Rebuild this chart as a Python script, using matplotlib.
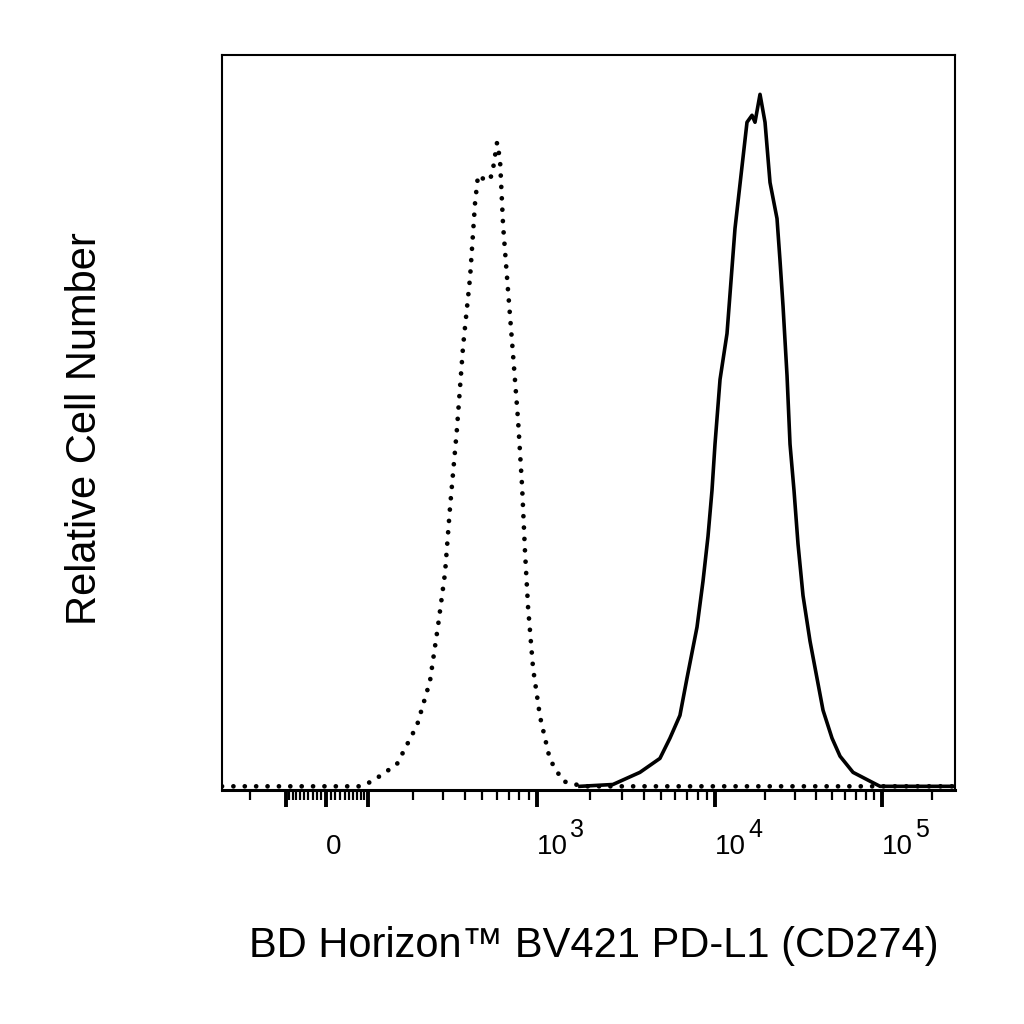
"""
PD-L1 (CD274) BV421 staining histogram, biexponential x axis
"""

import numpy as np
import matplotlib.pyplot as plt
from matplotlib.ticker import FixedLocator, FixedFormatter

plt.rcParams["font.family"] = ["Liberation Sans", "DejaVu Sans"]

# =============================================================================
# Data (fluorescence intensity, relative cell count)

# isotype control (dotted)
iso_x = [-320, 78, 108, 159, 212, 253, 282, 309, 330, 361, 391, 428, 456, 474,
         532, 567, 604, 627, 652, 694, 740, 788, 829, 860, 894, 952, 1040,
         1183, 1400, 1813, 275000]
iso_y = [0, 0, 1.4, 6.0, 16.6, 28.6, 43.8, 58.0, 75.9, 97.1, 119.7, 138.5,
         158.6, 166.3, 164.6, 166.3, 175.2, 170.6, 152.6, 135.0, 117.3, 99.6,
         81.6, 63.9, 48.7, 32.1, 19.0, 7.3, 1.4, 0, 0]

# PD-L1 stained (solid)
pdl1_x = [1744, 2673, 3790, 4909, 5587, 6357, 6962, 7924, 8563, 9135, 9618,
          10000, 10718, 11800, 13175, 15545, 16656, 17357, 18600, 19930,
          21350, 23510, 24500, 25550, 26990, 28130, 29720, 31410, 33650,
          37060, 40810, 44340, 50190, 56050, 67060, 84770, 97280, 275000]
pdl1_y = [0, 0.5, 3.8, 7.6, 13.1, 19.3, 29.4, 43.3, 55.8, 68.0, 80.5, 93.1,
          110.7, 123.2, 151.8, 180.7, 182.6, 180.7, 188.3, 180.7, 164.3,
          154.5, 143.1, 130.6, 111.8, 93.1, 80.5, 65.9, 51.9, 39.5, 29.4,
          20.7, 13.1, 8.2, 3.8, 1.4, 0, 0]

major_ticks = [-100, 0, 100, 1e3, 1e4, 1e5]
major_labels = ["", "0", "", "10", "10", "10"]
exponents = {1e3: "3", 1e4: "4", 1e5: "5"}
minor_ticks = ([-200] + list(range(-90, 0, 10)) + list(range(10, 100, 10))
               + list(range(200, 1000, 100)) + list(range(2000, 10000, 1000))
               + list(range(20000, 100000, 10000)) + [200000])

# =============================================================================
# Biexponential-like display scale (calibrated on the cytometer axis)

CAL_VALUES = np.array([-2000, -200, -100, 0, 100, 1e3, 1e4, 1e5, 2e5, 2.2e6])
CAL_A = np.arcsinh(CAL_VALUES / 100)
CAL_POS = np.array([0, 250, 286, 326, 368, 537, 715, 882, 932, 0], float)
CAL_POS[0] = 250 - (CAL_A[1] - CAL_A[0]) * 64.0
CAL_POS[-1] = 932 + (CAL_A[-1] - CAL_A[-2]) * 72.1


def biex_fwd(x):
    return np.interp(np.arcsinh(np.asarray(x, float) / 100), CAL_A, CAL_POS)


def biex_inv(p):
    return 100 * np.sinh(np.interp(np.asarray(p, float), CAL_POS, CAL_A))


# =============================================================================
# Plot

fg = plt.figure(figsize=(10.24, 10.24), dpi=100)
ax = fg.add_axes([222 / 1024, 1 - 790 / 1024, 733 / 1024, 735 / 1024])
ax.set_xscale("function", functions=(biex_fwd, biex_inv))

ax.plot(iso_x, iso_y, color="k", lw=3.4, ls=(0, (0.01, 2.4)),
        dash_capstyle="round", solid_capstyle="round")
ax.plot(pdl1_x, pdl1_y, color="k", lw=2.6, solid_joinstyle="round")

ax.set_xlim(-320, 275000)
ax.set_ylim(-1, 199)
ax.set_yticks([])

ax.xaxis.set_major_locator(FixedLocator(major_ticks))
ax.xaxis.set_major_formatter(FixedFormatter(major_labels))
ax.xaxis.set_minor_locator(FixedLocator(minor_ticks))
ax.tick_params(axis="x", which="major", length=12.5, width=2.8, pad=19,
               labelsize=20, direction="out")
ax.tick_params(axis="x", which="minor", length=7.5, width=1.6, direction="out")
for lbl in ax.get_xticklabels():
    lbl.set_horizontalalignment("left")

for val, e in exponents.items():
    ax.annotate(e, xy=(val, 0), xycoords=("data", "axes fraction"),
                xytext=(24, -34), textcoords="offset points",
                ha="left", va="baseline", fontsize=18)

for side in ["left", "top", "right"]:
    ax.spines[side].set_linewidth(1.5)
ax.spines["bottom"].set_linewidth(2.2)

ax.set_xlabel("BD Horizon\u2122 BV421 PD-L1 (CD274)", fontsize=30)
ax.xaxis.label.set_va("center")
ax.xaxis.set_label_coords(0.5 + (594 - 588.5) / 733, (790 - 946) / 735)
ax.set_ylabel("Relative Cell Number", fontsize=30)
ax.yaxis.label.set_va("center")
ax.yaxis.set_label_coords((85 - 222) / 733, 0.5 - (429 - 422.5) / 735)

fg.savefig("out.png", dpi=100)
